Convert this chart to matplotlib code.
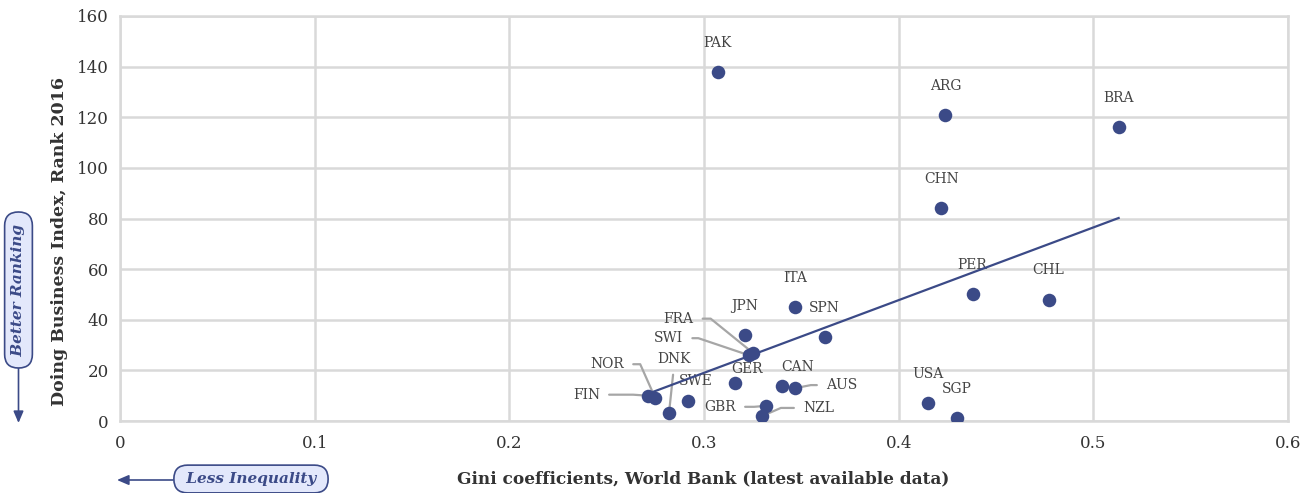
"""Scatter of Gini coefficient vs Doing Business rank, 2016"""
import matplotlib
matplotlib.use("Agg")
import matplotlib.pyplot as plt

plt.rcParams['font.family'] = ['DejaVu Serif']

## ------ Data ------- ##
countries = ['PAK', 'ARG', 'BRA', 'CHN', 'PER', 'CHL', 'ITA', 'SPN', 'JPN', 'FRA', 'SWI',
             'GER', 'CAN', 'AUS', 'USA', 'SGP', 'SWE', 'DNK', 'NOR', 'FIN', 'GBR', 'NZL']
gini = [0.307, 0.424, 0.513, 0.422, 0.438, 0.477, 0.347, 0.362, 0.321, 0.325, 0.323,
        0.316, 0.340, 0.347, 0.415, 0.430, 0.292, 0.282, 0.275, 0.271, 0.332, 0.330]
rank = [138, 121, 116, 84, 50, 48, 45, 33, 34, 27, 26,
        15, 14, 13, 7, 1, 8, 3, 9, 10, 6, 2]

trend_x = [0.271, 0.513]
trend_y = [10.7, 80.2]

x_ticks = [0, 0.1, 0.2, 0.3, 0.4, 0.5, 0.6]
x_tick_labels = ['0', '0.1', '0.2', '0.3', '0.4', '0.5', '0.6']
y_ticks = [0, 20, 40, 60, 80, 100, 120, 140, 160]

## ------ Label placement (pixel offsets from the dot) ------- ##
# plain labels sit above their dot
plain_offsets = {'GER': (12, 14), 'CAN': (16, 19), 'SWE': (7, 20)}
# labels with a leader line: offset, relpos, angleA, armA (px from text edge to the bend)
leader_labels = {
    'FIN': ((-61, 1), (1, 0.5), 0, 33),
    'NOR': ((-48, 34), (1, 0.5), 0, 16),
    'FRA': ((-74, 34), (1, 0.5), 0, 17),
    'SWI': ((-80, 17), (1, 0.5), 0, 15),
    'GBR': ((-46, -1), (1, 0.5), 0, 18),
    'NZL': ((56, 8), (0, 0.5), 180, 22),
    'AUS': ((46, 3), (0, 0.5), 180, 15),
}

DOT = '#3b4a87'
GRID = '#d9d9d9'
TEXT = '#333333'
LABEL = '#444444'
LEADER = '#a6a6a6'
LABEL_SIZE = 10

fig = plt.figure(figsize=(13.06, 4.93), dpi=100)
ax = fig.add_axes([120 / 1306, 72 / 493, 1168 / 1306, 405 / 493])

ax.scatter(gini, rank, s=95, color=DOT, zorder=3, linewidths=0)
ax.plot(trend_x, trend_y, color=DOT, lw=1.6, zorder=2.5)

for name, x, y in zip(countries, gini, rank):
    if name in leader_labels:
        off, rel, ang, arm = leader_labels[name]
        ax.annotate(name, (x, y), xytext=off, textcoords='offset pixels',
                    ha='center', va='center', fontsize=LABEL_SIZE, color=LABEL, zorder=2,
                    arrowprops=dict(arrowstyle='-', color=LEADER, lw=1.6, relpos=rel,
                                    shrinkA=4.5, shrinkB=0,
                                    connectionstyle=f'arc,angleA={ang},armA={arm},angleB=0,armB=0,rad=0'))
    elif name == 'DNK':
        ax.annotate(name, (x, y), xytext=(5, 54), textcoords='offset pixels',
                    ha='center', va='center', fontsize=LABEL_SIZE, color=LABEL, zorder=2,
                    arrowprops=dict(arrowstyle='-', color=LEADER, lw=1.6, relpos=(0.5, 0),
                                    shrinkA=4, shrinkB=0))
    else:
        off = plain_offsets.get(name, (0, 29))
        ax.annotate(name, (x, y), xytext=off, textcoords='offset pixels',
                    ha='center', va='center', fontsize=LABEL_SIZE, color=LABEL, zorder=2)

ax.set_xlim(0, 0.6)
ax.set_ylim(0, 160)
ax.set_xticks(x_ticks)
ax.set_xticklabels(x_tick_labels)
ax.set_yticks(y_ticks)
ax.grid(True, color=GRID, lw=1.8, zorder=0)
ax.set_axisbelow(True)
for sp in ax.spines.values():
    sp.set_color(GRID)
    sp.set_linewidth(1.8)
ax.tick_params(length=0, labelsize=12, colors=TEXT, pad=10)
ax.tick_params(axis='y', pad=8)

fig.text(60 / 1306, 1 - 241 / 493, 'Doing Business Index, Rank 2016', rotation=90,
         ha='center', va='center', fontsize=12.5, fontweight='bold', color=TEXT)
fig.text(703 / 1306, 1 - 479 / 493, 'Gini coefficients, World Bank (latest available data)',
         ha='center', va='center', fontsize=12.2, fontweight='bold', color=TEXT)

box = dict(boxstyle='round,pad=0.45,rounding_size=0.9', fc='#e3e8fb', ec=DOT, lw=1.2)
fig.text(18.5 / 1306, 1 - 290 / 493, ' Better Ranking ', rotation=90, ha='center', va='center',
         fontsize=11, fontweight='bold', style='italic', color=DOT, bbox=box)
fig.text(251 / 1306, 1 - 479 / 493, ' Less Inequality ', ha='center', va='center',
         fontsize=11, fontweight='bold', style='italic', color=DOT, bbox=box)

ax.annotate('', xy=(18.5, 493 - 423), xytext=(18.5, 493 - 367), xycoords='figure pixels',
            textcoords='figure pixels',
            arrowprops=dict(arrowstyle='-|>,head_length=0.7,head_width=0.3', color=DOT, lw=1.2,
                            shrinkA=0, shrinkB=0))
ax.annotate('', xy=(117, 493 - 480), xytext=(173, 493 - 480), xycoords='figure pixels',
            textcoords='figure pixels',
            arrowprops=dict(arrowstyle='-|>,head_length=0.7,head_width=0.3', color=DOT, lw=1.2,
                            shrinkA=0, shrinkB=0))

fig.savefig('out.png', dpi=100)
